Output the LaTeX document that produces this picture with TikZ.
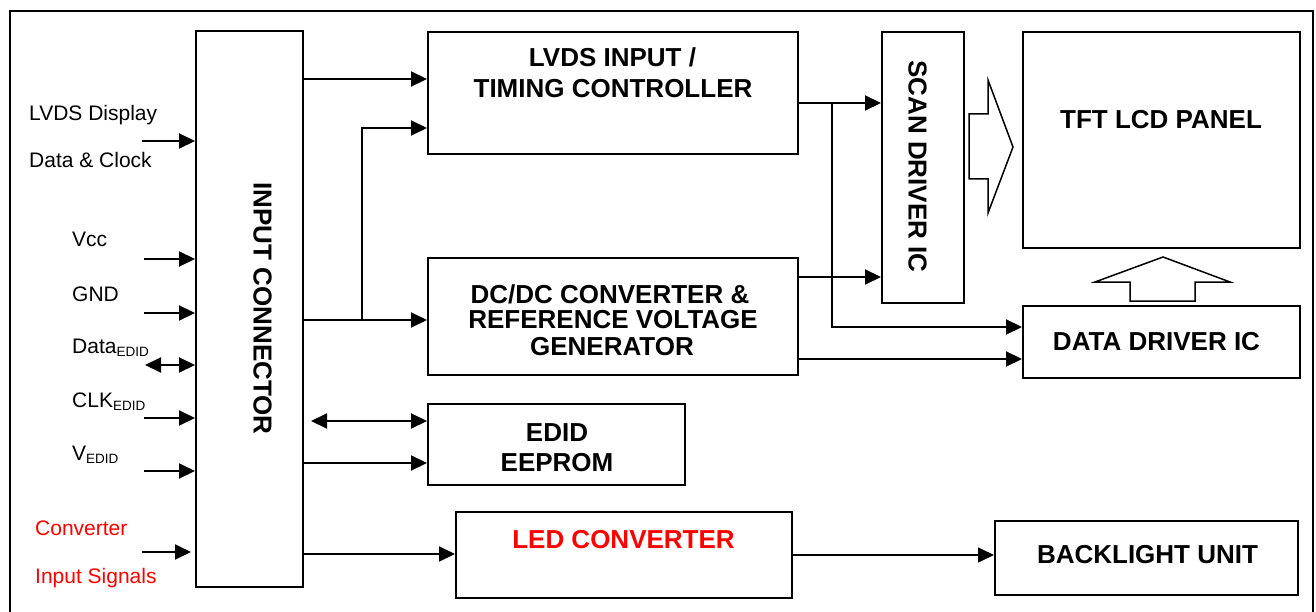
\documentclass[tikz,border=0pt]{standalone}
\usepackage{fontspec}
\setmainfont{Liberation Sans}
\usetikzlibrary{arrows.meta}
\newcommand\regf{\fontsize{21}{24}\selectfont}
\newcommand\bldf{\fontsize{26}{30}\selectfont\bfseries}
\newcommand\subedid{{\fontsize{13.5}{13.5}\selectfont\raisebox{-3pt}{EDID}}}
\definecolor{myred}{RGB}{255,0,0}
\begin{document}
\begin{tikzpicture}[x=1pt,y=-1pt,
  box/.style={draw, line width=2pt, rectangle, inner sep=0pt},
  arr/.style={line width=2pt, -{Triangle[length=16pt,width=15pt]}},
  darr/.style={line width=2pt, {Triangle[length=16pt,width=15pt]}-{Triangle[length=16pt,width=15pt]}},
  thinarr/.style={line width=1.5pt, -{Triangle[length=16pt,width=15pt]}},
  lab/.style={font=\regf, inner sep=0pt, anchor=base west},
  btxt/.style={font=\bldf, inner sep=0pt, anchor=base},
  hollow/.style={draw, line width=1.5pt, fill=white, line join=miter}]
\useasboundingbox (0,0) rectangle (1316,612);
\fill[white] (0,0) rectangle (1316,612);
\draw[line width=1.5pt] (10,11) rectangle (1313,625);

% boxes
\node[box, minimum width=107pt, minimum height=556pt] (conn) at (249.5,309) {};
\node[box, minimum width=370pt, minimum height=122pt] (lvds) at (613,93) {};
\node[box, minimum width=370pt, minimum height=117pt] (dcdc) at (613,316.5) {};
\node[box, minimum width=257pt, minimum height=81pt] (edid) at (556.5,444.5) {};
\node[box, minimum width=336pt, minimum height=86pt] (led) at (624,555) {};
\node[box, minimum width=82pt, minimum height=271pt] (scan) at (923,167.5) {};
\node[box, minimum width=277pt, minimum height=216pt] (tft) at (1161.5,140) {};
\node[box, minimum width=277pt, minimum height=72pt] (data) at (1161.5,342) {};
\node[box, minimum width=303pt, minimum height=74pt] (back) at (1146.5,558) {};

% box texts
\node[font=\bldf, inner sep=0pt, rotate=-90] (conntxt) at (262.5,308.5) {INPUT CONNECTOR};
\node[font=\bldf, inner sep=0pt, rotate=-90] (scantxt) at (917.5,166.5) {SCAN DRIVER IC};
\node[btxt] (lvdst1) at (612.5,67) {LVDS INPUT /};
\node[btxt] (lvdst2) at (613,98) {TIMING CONTROLLER};
\node[btxt] (dcdct1) at (610,303) {DC/DC CONVERTER \&};
\node[btxt] (dcdct2) at (613,328) {REFERENCE VOLTAGE};
\node[btxt] (dcdct3) at (612,355) {GENERATOR};
\node[btxt] (edidt1) at (557,441) {EDID};
\node[btxt] (edidt2) at (557,471) {EEPROM};
\node[btxt, text=myred] (ledt) at (623.5,548) {LED CONVERTER};
\node[btxt] (tftt) at (1161,129) {TFT LCD PANEL};
\node[btxt] (datat) at (1156.5,350) {DATA DRIVER IC};
\node[btxt] (backt) at (1147.5,563) {BACKLIGHT UNIT};

% left labels
\node[lab] (l1) at (29,121) {LVDS Display};
\node[lab] (l2) at (29,168) {Data \& Clock};
\node[lab] (l3) at (72,247) {Vcc};
\node[lab] (l4) at (72,301) {GND};
\node[lab] (l5) at (72,353) {Data\subedid};
\node[lab] (l6) at (72,407) {CLK\subedid};
\node[lab] (l7) at (72,460) {V\subedid};
\node[lab, text=myred] (l8) at (35,535) {Converter};
\node[lab, text=myred] (l9) at (35,583) {Input Signals};

% left input arrows
\draw[arr] ([xshift=-53pt]conn.west |- 0,141) -- (conn.west |- 0,141);
\draw[arr] ([xshift=-51pt]conn.west |- 0,259) -- (conn.west |- 0,259);
\draw[arr] ([xshift=-51pt]conn.west |- 0,313) -- (conn.west |- 0,313);
\draw[darr] ([xshift=-50pt]conn.west |- 0,365) -- (conn.west |- 0,365);
\draw[arr] ([xshift=-51pt]conn.west |- 0,418) -- (conn.west |- 0,418);
\draw[arr] ([xshift=-51pt]conn.west |- 0,471) -- (conn.west |- 0,471);
\draw[arr] ([xshift=-53pt]conn.west |- 0,552) -- ([xshift=-4pt]conn.west |- 0,552);

% connector outputs
\coordinate (br1) at (362,320);
\coordinate (br2) at (832,103);
\draw[arr] (conn.east |- 0,79) -- (lvds.west |- 0,79);
\draw[arr] (conn.east |- br1) -- (dcdc.west |- br1);
\draw[arr] (br1) |- (lvds.west |- 0,128);
\draw[darr] ([xshift=7pt]conn.east |- 0,421) -- (edid.west |- 0,421);
\draw[arr] (conn.east |- 0,463) -- (edid.west |- 0,463);
\draw[arr] (conn.east |- 0,554) -- (led.west |- 0,554);

% to drivers
\draw[arr] (lvds.east |- br2) -- (scan.west |- br2);
\draw[arr] (br2) |- (data.west |- 0,327);
\draw[arr] (dcdc.east |- 0,277) -- (scan.west |- 0,277);
\draw[arr] (dcdc.east |- 0,359) -- (data.west |- 0,359);
\draw[thinarr] (led.east |- 0,555) -- (back.west |- 0,555);

% hollow arrows
\draw[hollow] (969,114) -- (988,114) -- (988,80) -- (1013,147) -- (988,213) -- (988,179) -- (969,179) -- cycle;
\draw[hollow] (1130,301) -- (1130,282) -- (1095,282) -- (1163,257) -- (1230,282) -- (1195,282) -- (1195,301) -- cycle;
\end{tikzpicture}
\end{document}
